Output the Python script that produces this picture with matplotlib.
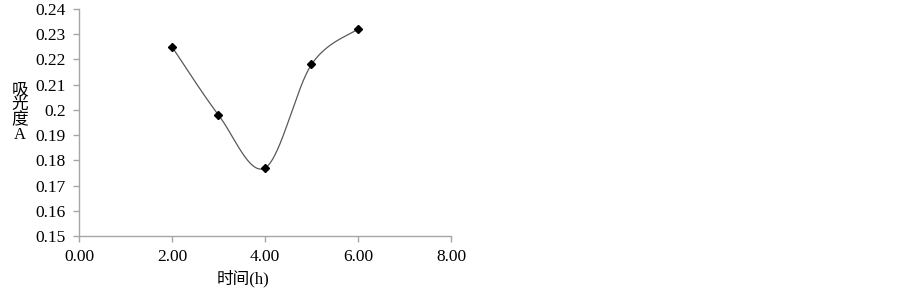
import numpy as np
import matplotlib
matplotlib.use("Agg")
import matplotlib.pyplot as plt

# data
hours = [2.0, 3.0, 4.0, 5.0, 6.0]
absorbance = [0.225, 0.198, 0.177, 0.218, 0.232]
x_ticks = [0, 2, 4, 6, 8]
y_ticks = [0.15, 0.16, 0.17, 0.18, 0.19, 0.2, 0.21, 0.22, 0.23, 0.24]
y_tick_labels = ["0.15", "0.16", "0.17", "0.18", "0.19", "0.2", "0.21", "0.22", "0.23", "0.24"]

FONT = ["Liberation Serif", "Noto Sans CJK SC"]


### spreadsheet-style smoothed line (bezier through points)

def smooth_curve(xs, ys, n=60):
    pts = np.column_stack([xs, ys])
    p = np.vstack([pts[0], pts, pts[-1]])
    out = []
    for i in range(1, len(p) - 2):
        p0, p1, p2, p3 = p[i - 1], p[i], p[i + 1], p[i + 2]
        c1 = p1 + (p2 - p0) / 6.0
        c2 = p2 - (p3 - p1) / 6.0
        t = np.linspace(0, 1, n)[:, None]
        seg = ((1 - t) ** 3) * p1 + 3 * ((1 - t) ** 2) * t * c1 \
            + 3 * (1 - t) * t ** 2 * c2 + t ** 3 * p2
        out.append(seg)
    seg = np.vstack(out)
    return seg[:, 0], seg[:, 1]


fig = plt.figure(figsize=(9.03, 2.89), dpi=100)
ax = fig.add_axes([0.0875, 0.183, 0.4119, 0.786])

sx, sy = smooth_curve(hours, absorbance)
ax.plot(sx, sy, color="#595959", lw=0.9)
ax.plot(hours, absorbance, linestyle="none", marker="D", markersize=4.2,
        color="black")

ax.set_xlim(0, 8)
ax.set_ylim(0.15, 0.24)
ax.set_xticks(x_ticks)
ax.set_xticklabels(["%.2f" % v for v in x_ticks])
ax.set_yticks(y_ticks)
ax.set_yticklabels(y_tick_labels)

for side in ["top", "right"]:
    ax.spines[side].set_visible(False)
for side in ["left", "bottom"]:
    ax.spines[side].set_color("#a6a6a6")
    ax.spines[side].set_linewidth(1.0)
ax.tick_params(direction="out", length=4.5, color="#a6a6a6", width=1.0,
               labelsize=12.5, pad=5)
for lab in ax.get_xticklabels() + ax.get_yticklabels():
    lab.set_family(FONT)

ax.set_xlabel("时间(h)", family=FONT, fontsize=12, labelpad=3)
ax.xaxis.label.set_x(0.44)
fig.text(0.022, 0.61, "吸\n光\n度\nA", family=FONT, fontsize=12,
         ha="center", va="center", linespacing=0.92)

fig.savefig("out.png", dpi=100)
